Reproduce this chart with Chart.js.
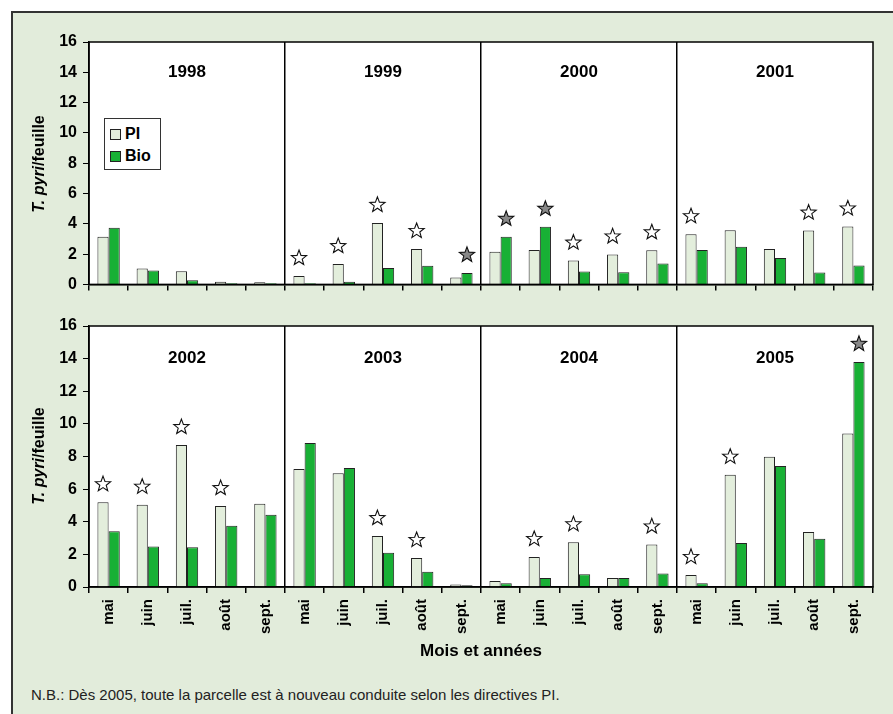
<!DOCTYPE html>
<html lang="fr">
<head>
<meta charset="UTF-8">
<title>T. pyri par feuille</title>
<script src="https://cdn.jsdelivr.net/npm/chart.js"></script>
<style>
    * { margin: 0; padding: 0; box-sizing: border-box; }
    body {
        background: #fff;
        width: 893px;
        height: 714px;
        overflow: hidden;
        position: relative;
        font-family: "Liberation Sans", Arial, sans-serif;
    }
    .cadre {
        position: absolute;
        left: 11px; top: 11px;
        width: 960px; height: 760px;
        background: #e2ecdb;
        border: 2px solid #333;
    }
    canvas { position: absolute; left: 0; }
    #graphHaut { top: 0; }
    #graphBas { top: 300px; }
    .titre-y {
        position: absolute;
        font-weight: bold;
        font-size: 16px;
        color: #000;
        white-space: nowrap;
        transform: translate(-50%, -50%) rotate(-90deg);
    }
    .legende {
        position: absolute;
        left: 104px; top: 118px;
        width: 57px; height: 52px;
        background: #fff;
        border: 1px solid #333;
        font-weight: bold;
        font-size: 16px;
    }
    .legende div { position: absolute; left: 5px; display: flex; align-items: center; }
    .legende span.carre {
        display: inline-block;
        width: 11px; height: 11px;
        border: 1px solid #222;
        margin-right: 4px;
    }
    .titre-x {
        position: absolute;
        left: 481px; top: 651px;
        transform: translate(-50%, -50%);
        font-weight: bold;
        font-size: 17px;
        white-space: nowrap;
    }
    .note {
        position: absolute;
        left: 31px; top: 694px;
        transform: translateY(-50%);
        font-size: 15px;
        color: #222;
        white-space: nowrap;
    }
</style>
</head>
<body>
<div class="cadre"></div>
<canvas id="graphHaut" width="893" height="300"></canvas>
<canvas id="graphBas" width="893" height="360"></canvas>

<div class="titre-y" style="left:39px; top:164px;"><i>T. pyri</i>/feuille</div>
<div class="titre-y" style="left:39px; top:456px;"><i>T. pyri</i>/feuille</div>

<div class="legende">
    <div style="top:6px;"><span class="carre" style="background:#e3eedc"></span>PI</div>
    <div style="top:28px;"><span class="carre" style="background:#18b035"></span>Bio</div>
</div>

<div class="titre-x">Mois et années</div>
<div class="note">N.B.: Dès 2005, toute la parcelle est à nouveau conduite selon les directives PI.</div>

<script>
// mois affichés sous chaque groupe d'années
const mois = ['mai', 'juin', 'juil.', 'août', 'sept.'];
const anneesHaut = ['1998', '1999', '2000', '2001'];
const anneesBas = ['2002', '2003', '2004', '2005'];

// T. pyri / feuille, 1998-2001
const piHaut = [3.15, 1.05, 0.87, 0.17, 0.15,  0.55, 1.34, 4.06, 2.34, 0.45,
                2.15, 2.27, 1.57, 1.98, 2.25,  3.31, 3.57, 2.34, 3.55, 3.82];
const bioHaut = [3.74, 0.91, 0.27, 0.08, 0.08,  0.07, 0.17, 1.08, 1.23, 0.76,
                 3.14, 3.80, 0.85, 0.81, 1.38,  2.27, 2.49, 1.74, 0.78, 1.25];

// T. pyri / feuille, 2002-2005
const piBas = [5.20, 5.04, 8.70, 4.96, 5.10,  7.23, 6.98, 3.12, 1.78, 0.15,
               0.37, 1.84, 2.74, 0.55, 2.61,  0.74, 6.88, 7.98, 3.37, 9.41];
const bioBas = [3.41, 2.49, 2.43, 3.76, 4.43,  8.82, 7.29, 2.10, 0.94, 0.10,
                0.23, 0.55, 0.78, 0.55, 0.82,  0.23, 2.69, 7.41, 2.96, 13.80];

// étoiles : 'p' = étoile blanche sur PI, 'b' = étoile grise sur Bio
const etoilesHaut = ['', '', '', '', '',  'p', 'p', 'p', 'p', 'b',
                     'b', 'b', 'p', 'p', 'p',  'p', '', '', 'p', 'p'];
const etoilesBas = ['p', 'p', 'p', 'p', '',  '', '', 'p', 'p', '',
                    '', 'p', 'p', '', 'p',  'p', 'p', '', '', 'b'];

const couleurPI = '#e3eedc';
const couleurBio = '#18b035';
const police = '"Liberation Sans", Arial, sans-serif';

function dessinerEtoile(ctx, x, y, r, remplissage) {
    const ri = r * 0.42;
    ctx.beginPath();
    for (let k = 0; k < 10; k++) {
        const rr = k % 2 === 0 ? r : ri;
        const a = -Math.PI / 2 + k * Math.PI / 5;
        const px = x + rr * Math.cos(a);
        const py = y + rr * Math.sin(a);
        if (k === 0) ctx.moveTo(px, py); else ctx.lineTo(px, py);
    }
    ctx.closePath();
    ctx.fillStyle = remplissage;
    ctx.fill();
    ctx.lineWidth = 1.1;
    ctx.strokeStyle = '#111';
    ctx.stroke();
}

const pluginPanneau = {
    id: 'panneau',
    beforeDraw(chart) {
        const a = chart.chartArea;
        const ctx = chart.ctx;
        ctx.save();
        ctx.fillStyle = '#fff';
        ctx.fillRect(a.left, a.top, a.right - a.left, a.bottom - a.top);
        ctx.restore();
    },
    afterDatasetsDraw(chart, args, opts) {
        const ctx = chart.ctx;
        const a = chart.chartArea;
        const x = chart.scales.x;
        ctx.save();
        // étoiles au-dessus des barres
        const metaPI = chart.getDatasetMeta(0);
        const metaBio = chart.getDatasetMeta(1);
        opts.etoiles.forEach((code, i) => {
            if (!code) return;
            const barre = code === 'p' ? metaPI.data[i] : metaBio.data[i];
            dessinerEtoile(ctx, barre.x, barre.y - 18, 8, code === 'p' ? '#fff' : '#888');
        });
        // années
        ctx.fillStyle = '#000';
        ctx.font = 'bold 17px ' + police;
        ctx.textAlign = 'center';
        ctx.textBaseline = 'middle';
        opts.annees.forEach((an, k) => {
            const cx = (x.getPixelForValue(k * 5) + x.getPixelForValue(k * 5 + 4)) / 2;
            ctx.fillText(an, cx, a.top + opts.decalAnnee);
        });
        // cadre de la zone de tracé
        ctx.strokeStyle = '#000';
        ctx.lineWidth = 1.5;
        ctx.strokeRect(a.left, a.top, a.right - a.left, a.bottom - a.top);
        ctx.restore();
    }
};

function creerGraphique(id, pi, bio, annees, etoiles, avecEtiquettes) {
    const etiquettes = [];
    annees.forEach(() => mois.forEach(m => etiquettes.push(m)));
    const canvas = document.getElementById(id);
    const hauteurAxeX = avecEtiquettes ? 73 : 7;
    return new Chart(canvas.getContext('2d'), {
        type: 'bar',
        data: {
            labels: etiquettes,
            datasets: [{
                label: 'PI',
                data: pi,
                backgroundColor: couleurPI,
                borderColor: '#222',
                borderWidth: 1
            }, {
                label: 'Bio',
                data: bio,
                backgroundColor: couleurBio,
                borderColor: '#222',
                borderWidth: 1
            }]
        },
        options: {
            responsive: false,
            animation: false,
            devicePixelRatio: 1,
            datasets: {
                bar: { categoryPercentage: 0.57, barPercentage: 1 }
            },
            layout: {
                padding: { left: 0, right: 20, top: avecEtiquettes ? 26 : 42, bottom: 0 }
            },
            plugins: {
                legend: { display: false },
                tooltip: { enabled: false },
                panneau: { annees: annees, etoiles: etoiles, decalAnnee: avecEtiquettes ? 32 : 30 }
            },
            scales: {
                x: {
                    afterFit: s => { s.height = hauteurAxeX; },
                    grid: {
                        offset: true,
                        drawOnChartArea: true,
                        color: c => (c.index % 5 === 0 && c.index > 0 && c.index < 20) ? '#000' : 'rgba(0,0,0,0)',
                        lineWidth: 1.5,
                        tickColor: '#000',
                        tickLength: 6
                    },
                    border: { display: true, color: '#000', width: 1.5 },
                    ticks: {
                        display: avecEtiquettes,
                        autoSkip: false,
                        minRotation: 90,
                        maxRotation: 90,
                        padding: 6,
                        color: '#000',
                        font: { family: police, size: 15, weight: 'bold' }
                    }
                },
                y: {
                    min: 0,
                    max: 16,
                    afterFit: s => { s.width = 89; },
                    grid: { drawOnChartArea: false, tickColor: '#000', tickLength: 6 },
                    border: { display: true, color: '#000', width: 1.5 },
                    ticks: {
                        stepSize: 2,
                        padding: 6,
                        color: '#000',
                        font: { family: police, size: 16, weight: 'bold' }
                    }
                }
            }
        },
        plugins: [pluginPanneau]
    });
}

creerGraphique('graphHaut', piHaut, bioHaut, anneesHaut, etoilesHaut, false);
creerGraphique('graphBas', piBas, bioBas, anneesBas, etoilesBas, true);
</script>
</body>
</html>
